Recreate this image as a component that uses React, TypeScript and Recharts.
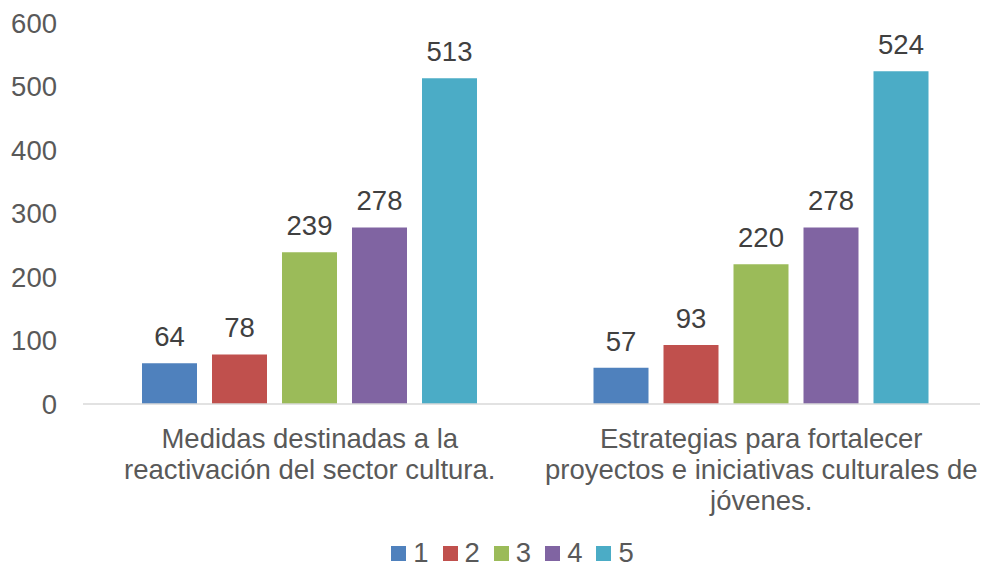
import { BarChart, Bar, XAxis, YAxis, LabelList, Legend } from 'recharts';

// categories and their wrapped tick lines (as in the original)
const categories = [
  'Medidas destinadas a la reactivación del sector cultura.',
  'Estrategias para fortalecer proyectos e iniciativas culturales de jóvenes.',
];
const categoryLines = [
  ['Medidas destinadas a la', 'reactivación del sector cultura.'],
  ['Estrategias para fortalecer', 'proyectos e iniciativas culturales de', 'jóvenes.'],
];

const seriesNames = ['1', '2', '3', '4', '5'];
const s1 = [64, 57];
const s2 = [78, 93];
const s3 = [239, 220];
const s4 = [278, 278];
const s5 = [513, 524];
const seriesValues = [s1, s2, s3, s4, s5];
const colors = ['#4F81BD', '#C0504D', '#9BBB59', '#8064A2', '#4BACC6'];
const yTicks = [0, 100, 200, 300, 400, 500, 600];

const data = categories.map((name, i) => {
  const row: Record<string, string | number> = { name, idx: i };
  seriesNames.forEach((s, k) => {
    row['s' + s] = seriesValues[k][i];
  });
  return row;
});

const FONT = '"Liberation Sans", Arial, sans-serif';
const FS = 27.5;

function CategoryTick(props: any) {
  const { x, y, payload } = props;
  const lines = categoryLines[payload.index] || [payload.value];
  return (
    <text x={x} y={y} textAnchor="middle" fill="#595959" fontSize={FS} fontFamily={FONT}>
      {lines.map((l: string, i: number) => (
        <tspan key={i} x={x} dy={i === 0 ? 44 : 31}>
          {l}
        </tspan>
      ))}
    </text>
  );
}

function LegendContent() {
  return (
    <div
      style={{
        height: 28,
        boxSizing: 'border-box',
        paddingLeft: 45,
        display: 'flex',
        justifyContent: 'center',
        alignItems: 'center',
        fontFamily: FONT,
        fontSize: FS,
        color: '#595959',
      }}
    >
      {seriesNames.map((s, i) => (
        <div key={s} style={{ display: 'flex', alignItems: 'center', marginRight: i < 4 ? 14 : 0 }}>
          <div style={{ width: 15, height: 15, background: colors[i], marginRight: 7 }} />
          <span style={{ lineHeight: '28px' }}>{s}</span>
        </div>
      ))}
    </div>
  );
}

export default function App() {
  return (
    <div style={{ position: 'absolute', left: 0, top: 0, width: 982, height: 567, background: '#fff' }}>
      <BarChart
        width={982}
        height={567}
        data={data}
        margin={{ top: 23, right: 2, bottom: 0, left: 0 }}
        barCategoryGap={58}
        barGap={15}
      >
        <XAxis
          dataKey="name"
          height={135}
          tick={<CategoryTick />}
          tickLine={false}
          tickSize={0}
          tickMargin={0}
          axisLine={{ stroke: '#D9D9D9', strokeWidth: 1.5 }}
          padding={{ left: 1, right: -7 }}
          interval={0}
        />
        <YAxis
          width={83}
          domain={[0, 600]}
          ticks={yTicks}
          axisLine={false}
          tickLine={false}
          tickSize={0}
          tickMargin={26}
          tick={{ fill: '#595959', fontSize: FS, fontFamily: FONT }}
        />
        <Legend verticalAlign="bottom" content={<LegendContent />} />
        {seriesNames.map((s, i) => (
          <Bar key={s} dataKey={'s' + s} name={s} fill={colors[i]} isAnimationActive={false}>
            <LabelList
              dataKey={'s' + s}
              position="top"
              offset={17}
              fill="#404040"
              fontSize={FS}
              fontFamily={FONT}
            />
          </Bar>
        ))}
      </BarChart>
    </div>
  );
}
